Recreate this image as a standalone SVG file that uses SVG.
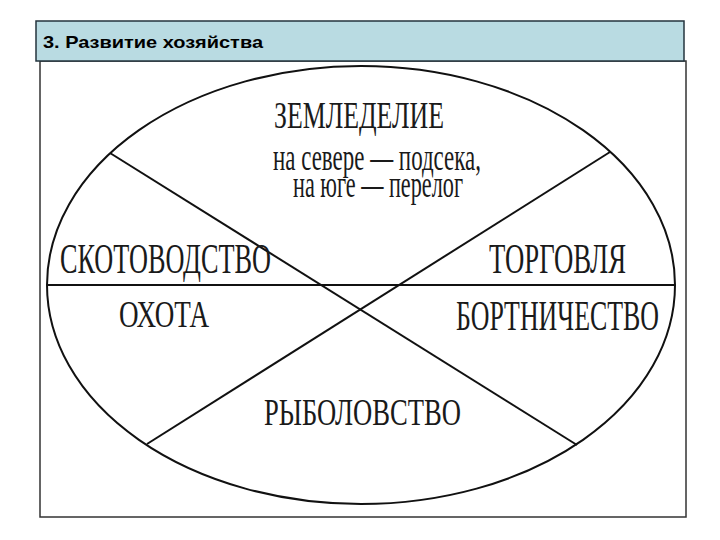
<svg xmlns="http://www.w3.org/2000/svg" width="720" height="540" viewBox="0 0 720 540">
  <style>
    .frame { fill: #ffffff; stroke: #333333; stroke-width: 1.5; }
    .header { fill: #b9dbe2; stroke: #24343e; stroke-width: 1.5; }
    .title { font-family: "Liberation Sans", Arial, sans-serif; font-weight: bold; font-size: 17px; fill: #000000; }
    .lbl { font-family: "Liberation Serif", "Times New Roman", serif; fill: #1a1a1a; text-anchor: start; }
    .shape { fill: none; stroke: #111111; stroke-width: 2; }
  </style>
  <rect width="720" height="540" fill="#ffffff"/>
  <rect id="content-frame" class="frame" x="40" y="61" width="646" height="456"/>
  <g id="header">
    <rect class="header" x="36" y="21" width="648" height="40"/>
    <text class="title" x="43" y="48" textLength="220" lengthAdjust="spacingAndGlyphs">3. Развитие хозяйства</text>
  </g>
  <g id="connectors">
    <ellipse class="shape" cx="361" cy="285" rx="314" ry="219"/>
    <line class="shape" x1="47" y1="285" x2="675" y2="285"/>
    <line class="shape" x1="110" y1="153" x2="577" y2="445"/>
    <line class="shape" x1="610" y1="152" x2="147" y2="444"/>
  </g>
  <g id="node-zemledelie">
    <text class="lbl" x="274" y="128" font-size="38" textLength="170" lengthAdjust="spacingAndGlyphs">ЗЕМЛЕДЕЛИЕ</text>
    <text class="lbl" x="273" y="170" font-size="38" textLength="208" lengthAdjust="spacingAndGlyphs">на севере — подсека,</text>
    <text class="lbl" x="293" y="197" font-size="38" textLength="170" lengthAdjust="spacingAndGlyphs">на юге — перелог</text>
  </g>
  <g id="node-skotovodstvo">
    <text class="lbl" x="60" y="273" font-size="42" textLength="211" lengthAdjust="spacingAndGlyphs">СКОТОВОДСТВО</text>
  </g>
  <g id="node-okhota">
    <text class="lbl" x="119" y="327" font-size="37" textLength="90" lengthAdjust="spacingAndGlyphs">ОХОТА</text>
  </g>
  <g id="node-torgovlya">
    <text class="lbl" x="489" y="273" font-size="42" textLength="137" lengthAdjust="spacingAndGlyphs">ТОРГОВЛЯ</text>
  </g>
  <g id="node-bortnichestvo">
    <text class="lbl" x="456" y="330" font-size="42" textLength="203" lengthAdjust="spacingAndGlyphs">БОРТНИЧЕСТВО</text>
  </g>
  <g id="node-rybolovstvo">
    <text class="lbl" x="264" y="425" font-size="38" textLength="197" lengthAdjust="spacingAndGlyphs">РЫБОЛОВСТВО</text>
  </g>
</svg>
